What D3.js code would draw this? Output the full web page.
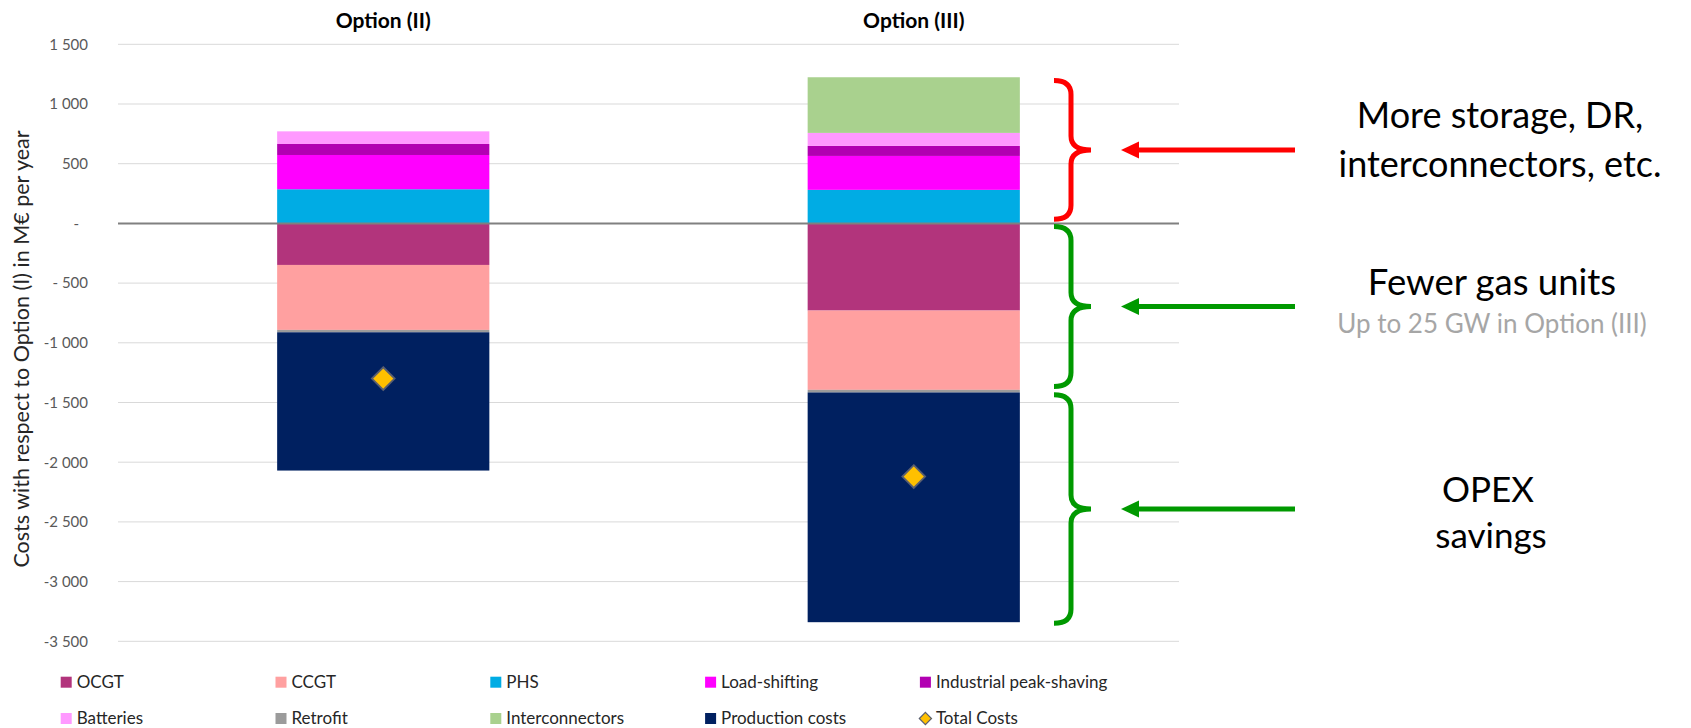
<!DOCTYPE html>
<html><head><meta charset="utf-8">
<script src="https://cdn.jsdelivr.net/npm/d3@7"></script>
<style>
html,body{margin:0;padding:0;background:#fff;}
svg{display:block;font-family:Lato,"Open Sans",sans-serif;}
</style></head><body>
<svg id="chart" width="1691" height="728"></svg>
<script>
// Cost differences of Options (II) and (III) relative to Option (I), M€ per year
const categories = ["Option (II)", "Option (III)"];
const seriesNames = ["OCGT", "CCGT", "PHS", "Load-shifting", "Industrial peak-shaving",
                     "Batteries", "Retrofit", "Interconnectors", "Production costs"];
const ocgt = [-348, -730];
const ccgt = [-544, -664];
const phs = [286, 281];
const loadShifting = [287, 284];
const industrialPeakShaving = [92, 84];
const batteries = [106, 109];
const retrofit = [-20, -22];
const interconnectors = [0, 466];
const productionCosts = [-1158, -1924];
const totalCosts = [-1300, -2120];

const yTicks = [1500, 1000, 500, 0, -500, -1000, -1500, -2000, -2500, -3000, -3500];
const yTickLabels = ["1 500", "1 000", "500", "-", "- 500", "-1 000", "-1 500", "-2 000", "-2 500", "-3 000", "-3 500"];
const seriesColors = ["#b2347c", "#ffa0a0", "#00ace4", "#ff00ff", "#b200b2",
                      "#ff99ff", "#9b9b9b", "#a9d18e", "#002060"];
const legendOrder = ["OCGT", "CCGT", "PHS", "Load-shifting", "Industrial peak-shaving",
                     "Batteries", "Retrofit", "Interconnectors", "Production costs", "Total Costs"];

const seriesValues = [ocgt, ccgt, phs, loadShifting, industrialPeakShaving,
                      batteries, retrofit, interconnectors, productionCosts];

// rows for the stack generator
const rows = categories.map((c, i) => {
  const r = {category: c};
  seriesNames.forEach((s, j) => { r[s] = seriesValues[j][i]; });
  return r;
});

const svg = d3.select("#chart");
const plot = {left: 118, right: 1179, top: 44.3, bottom: 641.3};

const x = d3.scaleBand().domain(categories).range([plot.left, plot.right]);
const barW = x.bandwidth() * 0.4;
const y = d3.scaleLinear().domain([-3500, 1500]).range([plot.bottom, plot.top]);

// gridlines
svg.append("g").selectAll("line").data(yTicks.filter(d => d !== 0)).join("line")
  .attr("x1", plot.left).attr("x2", plot.right)
  .attr("y1", d => y(d)).attr("y2", d => y(d))
  .attr("stroke", "#d9d9d9").attr("stroke-width", 1);

// y axis labels
const yAxis = d3.axisLeft(y).tickValues(yTicks).tickSize(0).tickPadding(0)
  .tickFormat((d, i) => yTickLabels[i]);
const gy = svg.append("g").attr("transform", `translate(88,0)`).call(yAxis);
gy.select(".domain").remove();
gy.selectAll("text")
  .attr("font-family", "Lato, sans-serif").attr("font-size", 15)
  .attr("fill", "#595959")
  .attr("dx", d => d === 0 ? -9 : 0);

// y axis title
svg.append("text")
  .attr("transform", `translate(29,349) rotate(-90)`)
  .attr("text-anchor", "middle")
  .attr("font-size", 21.5).attr("fill", "#262626")
  .text("Costs with respect to Option (I) in M€ per year");

// stacked bars
const stack = d3.stack().keys(seriesNames).offset(d3.stackOffsetDiverging);
const stacked = stack(rows);
svg.append("g").selectAll("g").data(stacked).join("g")
  .attr("fill", (d, i) => seriesColors[i])
  .selectAll("rect").data(d => d).join("rect")
  .attr("x", d => x(d.data.category) + (x.bandwidth() - barW) / 2)
  .attr("width", barW)
  .attr("y", d => y(Math.max(d[0], d[1])))
  .attr("height", d => Math.abs(y(d[0]) - y(d[1])));

// zero line
svg.append("line")
  .attr("x1", plot.left).attr("x2", plot.right)
  .attr("y1", y(0)).attr("y2", y(0))
  .attr("stroke", "#808080").attr("stroke-width", 2);

// total cost markers
const diamond = d3.symbol().type(d3.symbolDiamond2).size(330);
svg.append("g").selectAll("path").data(totalCosts).join("path")
  .attr("d", diamond)
  .attr("transform", (d, i) => `translate(${x(categories[i]) + x.bandwidth() / 2},${y(d)})`)
  .attr("fill", "#ffc000").attr("stroke", "#5a5f70").attr("stroke-width", 1.8);

// category titles
svg.append("g").selectAll("text").data(categories).join("text")
  .attr("x", d => x(d) + x.bandwidth() / 2).attr("y", 28)
  .attr("text-anchor", "middle").attr("font-weight", "bold")
  .attr("font-size", 21).attr("fill", "#000")
  .text(d => d);

// legend
const lg = svg.append("g");
legendOrder.forEach((name, k) => {
  const col = k % 5, row = Math.floor(k / 5);
  const lx = 60.7 + col * 214.8, ly = row === 0 ? 682.2 : 718.5;
  const si = seriesNames.indexOf(name);
  if (si >= 0) {
    lg.append("rect").attr("x", lx).attr("y", ly - 5.5).attr("width", 11).attr("height", 11)
      .attr("fill", seriesColors[si]);
  } else {
    lg.append("path").attr("d", d3.symbol().type(d3.symbolDiamond2).size(95)())
      .attr("transform", `translate(${lx + 5.5},${ly})`)
      .attr("fill", "#ffc000").attr("stroke", "#5a5f70").attr("stroke-width", 1.2);
  }
  lg.append("text").attr("x", lx + 16).attr("y", ly + 5.8)
    .attr("font-size", 17).attr("fill", "#262626").text(name);
});

// braces and arrows on the right
const braces = [
  {from: 1196, to: 35, color: "#ff0000"},
  {from: -27, to: -1367, color: "#009900"},
  {from: -1436, to: -3348, color: "#009900"}
];
const bx0 = 1054, bx1 = 1071, bx2 = 1091, r = 14;
braces.forEach(b => {
  const yt = y(b.from), yb = y(b.to), ym = (yt + yb) / 2;
  const p = d3.path();
  p.moveTo(bx0, yt);
  p.quadraticCurveTo(bx1, yt, bx1, yt + r);
  p.lineTo(bx1, ym - r);
  p.quadraticCurveTo(bx1, ym, bx2, ym);
  p.quadraticCurveTo(bx1, ym, bx1, ym + r);
  p.lineTo(bx1, yb - r);
  p.quadraticCurveTo(bx1, yb, bx0, yb);
  svg.append("path").attr("d", p.toString()).attr("fill", "none")
    .attr("stroke", b.color).attr("stroke-width", 5);
  // arrow pointing to the brace
  svg.append("line").attr("x1", 1295).attr("x2", 1136).attr("y1", ym).attr("y2", ym)
    .attr("stroke", b.color).attr("stroke-width", 5);
  svg.append("path")
    .attr("d", `M1121,${ym} L1139,${ym - 8.5} L1139,${ym + 8.5} Z`)
    .attr("fill", b.color);
});

// annotation texts
const notes = [
  {t: "More storage, DR,", x: 1500, y: 128, s: 36, c: "#000"},
  {t: "interconnectors, etc.", x: 1500, y: 177, s: 36, c: "#000"},
  {t: "Fewer gas units", x: 1492, y: 295, s: 36.5, c: "#000"},
  {t: "Up to 25 GW in Option (III)", x: 1492, y: 333, s: 26, c: "#a6a6a6"},
  {t: "OPEX", x: 1488, y: 502, s: 35, c: "#000"},
  {t: "savings", x: 1491, y: 548, s: 35, c: "#000"}
];
svg.append("g").selectAll("text").data(notes).join("text")
  .attr("x", d => d.x).attr("y", d => d.y).attr("text-anchor", "middle")
  .attr("font-size", d => d.s).attr("fill", d => d.c).text(d => d.t);
</script>
</body></html>
